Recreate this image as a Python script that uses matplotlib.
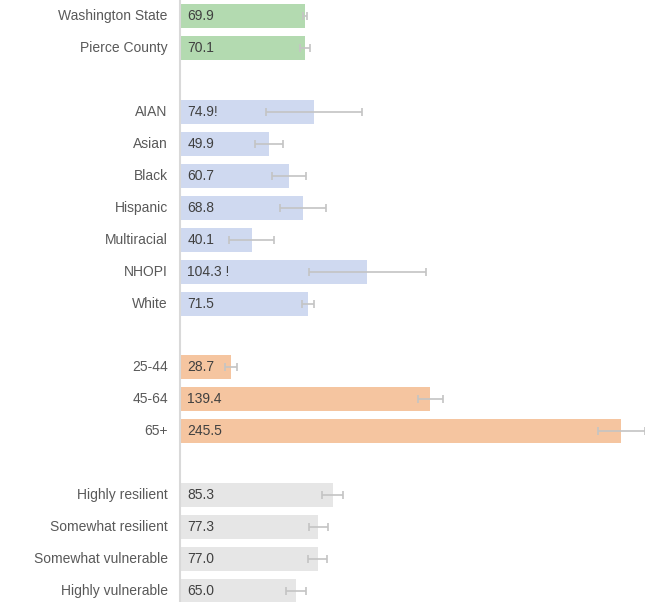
import matplotlib
matplotlib.use("Agg")
import matplotlib.pyplot as plt

categories = ["Washington State", "Pierce County", None,
              "AIAN", "Asian", "Black", "Hispanic", "Multiracial", "NHOPI", "White", None,
              "25-44", "45-64", "65+", None,
              "Highly resilient", "Somewhat resilient", "Somewhat vulnerable", "Highly vulnerable"]
values = [69.9, 70.1, None,
          74.9, 49.9, 60.7, 68.8, 40.1, 104.3, 71.5, None,
          28.7, 139.4, 245.5, None,
          85.3, 77.3, 77.0, 65.0]
value_labels = ["69.9", "70.1", None,
                "74.9!", "49.9", "60.7", "68.8", "40.1", "104.3 !", "71.5", None,
                "28.7", "139.4", "245.5", None,
                "85.3", "77.3", "77.0", "65.0"]
ci_low = [68.8, 67.1, None,
          48.1, 41.9, 51.3, 56.1, 27.6, 71.8, 68.4, None,
          25.4, 132.5, 232.8, None,
          79.4, 71.8, 71.6, 59.5]
ci_high = [70.9, 72.7, None,
           101.6, 57.8, 70.3, 81.3, 52.6, 137.0, 74.6, None,
           31.9, 146.5, 258.8, None,
           91.2, 82.6, 82.2, 70.3]
groups = ["overall", "overall", None,
          "race", "race", "race", "race", "race", "race", "race", None,
          "age", "age", "age", None,
          "svi", "svi", "svi", "svi"]
group_colors = {"overall": "#b3dab0", "race": "#cfd9f0", "age": "#f5c5a0", "svi": "#e6e6e6"}

fig = plt.figure(figsize=(6.45, 6.02), dpi=100)
W, H = 645, 602
left_px, right_px = 179.5, 645
ax = fig.add_axes([left_px / W, 0, (right_px - left_px) / W, 1])
ax.set_xlim(0, (right_px - left_px) / 1.797)
ax.set_ylim(18.34, -0.5)

for i, cat in enumerate(categories):
    if cat is None:
        continue
    v = values[i]
    ax.barh(i, v, height=0.75, color=group_colors[groups[i]], left=0, zorder=2)
    ax.errorbar(v, i, xerr=[[v - ci_low[i]], [ci_high[i] - v]], fmt="none",
                ecolor="#c4c4c4", elinewidth=1.2, capsize=2.8, capthick=1.2, zorder=3)
    ax.text(4.3, i, value_labels[i], va="center", ha="left", fontsize=10,
            color="#404040", family="Liberation Sans", zorder=4)
    ax.text(-6.5, i, cat, va="center", ha="right", fontsize=10,
            color="#595959", family="Liberation Sans")

ax.set_xticks([])
ax.set_yticks([])
for s in ["top", "right", "bottom"]:
    ax.spines[s].set_visible(False)
ax.spines["left"].set_color("#d9d9d9")
ax.spines["left"].set_linewidth(1.5)
ax.spines["left"].set_zorder(5)
ax.patch.set_alpha(0)

fig.savefig("out.png", dpi=100)
